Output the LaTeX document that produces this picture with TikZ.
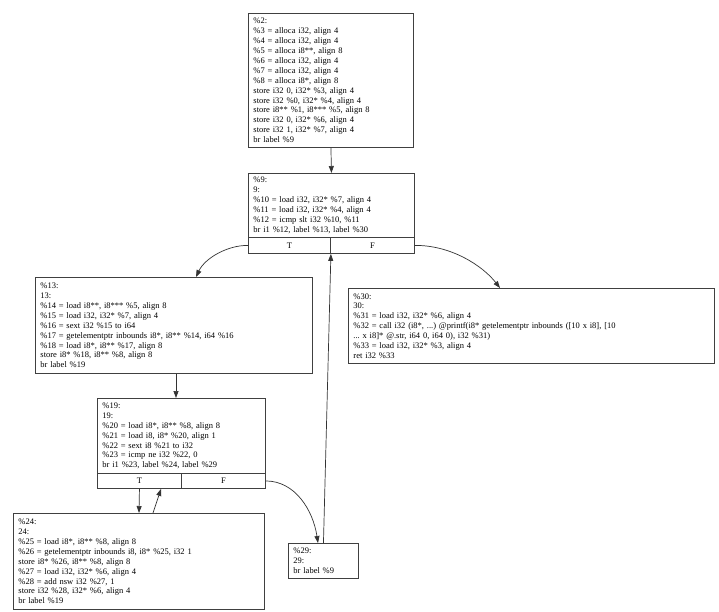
\documentclass[tikz,border=0pt]{standalone}
\usepackage{fontspec}
\setmainfont{Liberation Serif}
\usetikzlibrary{arrows.meta}
\newcommand\fs{\fontsize{8.5}{9.9}\selectfont\frenchspacing}
\begin{document}
\begin{tikzpicture}[x=1pt,y=-1pt,
 blk/.style={draw=black!75, line width=0.9pt, anchor=north west, inner xsep=5pt, inner ysep=0pt, align=left, font=\fs},
 cell/.style={draw=black!75, line width=0.9pt, anchor=north west, inner sep=0pt, font=\fs, minimum height=16pt},
 edge/.style={draw=black!80, line width=0.7pt, -{Triangle[length=7pt,width=5pt]}}]
\useasboundingbox[fill=white] (0,0) rectangle (719,612);
\node[blk, text width=155pt, minimum height=134pt] (n2) at (248,13) {\%2:\\
\%3 = alloca i32, align 4\\
\%4 = alloca i32, align 4\\
\%5 = alloca i8**, align 8\\
\%6 = alloca i32, align 4\\
\%7 = alloca i32, align 4\\
\%8 = alloca i8*, align 8\\
store i32 0, i32* \%3, align 4\\
store i32 \%0, i32* \%4, align 4\\
store i8** \%1, i8*** \%5, align 8\\
store i32 0, i32* \%6, align 4\\
store i32 1, i32* \%7, align 4\\
br label \%9};
\node[blk, text width=156pt, minimum height=64pt] (n9) at (248,173) {\%9:\\
9:\\
\%10 = load i32, i32* \%7, align 4\\
\%11 = load i32, i32* \%4, align 4\\
\%12 = icmp slt i32 \%10, \%11\\
br i1 \%12, label \%13, label \%30};
\node[cell, minimum width=82pt] (n9t) at (248,237) {T};
\node[cell, minimum width=84pt] (n9f) at (330,237) {F};
\node[blk, text width=267pt, minimum height=96pt] (n13) at (35,277) {\%13:\\
13:\\
\%14 = load i8**, i8*** \%5, align 8\\
\%15 = load i32, i32* \%7, align 4\\
\%16 = sext i32 \%15 to i64\\
\%17 = getelementptr inbounds i8*, i8** \%14, i64 \%16\\
\%18 = load i8*, i8** \%17, align 8\\
store i8* \%18, i8** \%8, align 8\\
br label \%19};
\node[blk, text width=356pt, minimum height=75pt] (n30) at (348,288) {\%30:\\
30:\\
\%31 = load i32, i32* \%6, align 4\\
\%32 = call i32 (i8*, ...) @printf(i8* getelementptr inbounds ([10 x i8], [10\\
... x i8]* @.str, i64 0, i64 0), i32 \%31)\\
\%33 = load i32, i32* \%3, align 4\\
ret i32 \%33};
\node[blk, text width=158pt, minimum height=75pt] (n19) at (97,398) {\%19:\\
19:\\
\%20 = load i8*, i8** \%8, align 8\\
\%21 = load i8, i8* \%20, align 1\\
\%22 = sext i8 \%21 to i32\\
\%23 = icmp ne i32 \%22, 0\\
br i1 \%23, label \%24, label \%29};
\node[cell, minimum width=84pt, minimum height=15pt] (n19t) at (97,473) {T};
\node[cell, minimum width=84pt, minimum height=15pt] (n19f) at (181,473) {F};
\node[blk, text width=241pt, minimum height=96pt] (n24) at (13,513) {\%24:\\
24:\\
\%25 = load i8*, i8** \%8, align 8\\
\%26 = getelementptr inbounds i8, i8* \%25, i32 1\\
store i8* \%26, i8** \%8, align 8\\
\%27 = load i32, i32* \%6, align 4\\
\%28 = add nsw i32 \%27, 1\\
store i32 \%28, i32* \%6, align 4\\
br label \%19};
\node[blk, text width=60pt, minimum height=35pt] (n29) at (288,543) {\%29:\\
29:\\
br label \%9};
\draw[edge] (n2.south) -- (n9.north);
\draw[edge] (n9t.west) .. controls (228,245) and (205,258) .. ([xshift=161pt]n13.north west);
\draw[edge] (n9f.east) .. controls (450,245) and (482,265) .. ([xshift=152pt]n30.north west);
\draw[edge] (n29.north) -- (n9t.south east);
\draw[edge] ([xshift=141pt]n13.south west) -- ([xshift=79pt]n19.north west);
\draw[edge] (n19t.south) -- ([xshift=126pt]n24.north west);
\draw[edge] ([xshift=140pt]n24.north west) -- ([xshift=64pt]n19t.south west);
\draw[edge] (n19f.east) .. controls (295,481) and (313,510) .. ([xshift=30pt]n29.north west);
\end{tikzpicture}
\end{document}
